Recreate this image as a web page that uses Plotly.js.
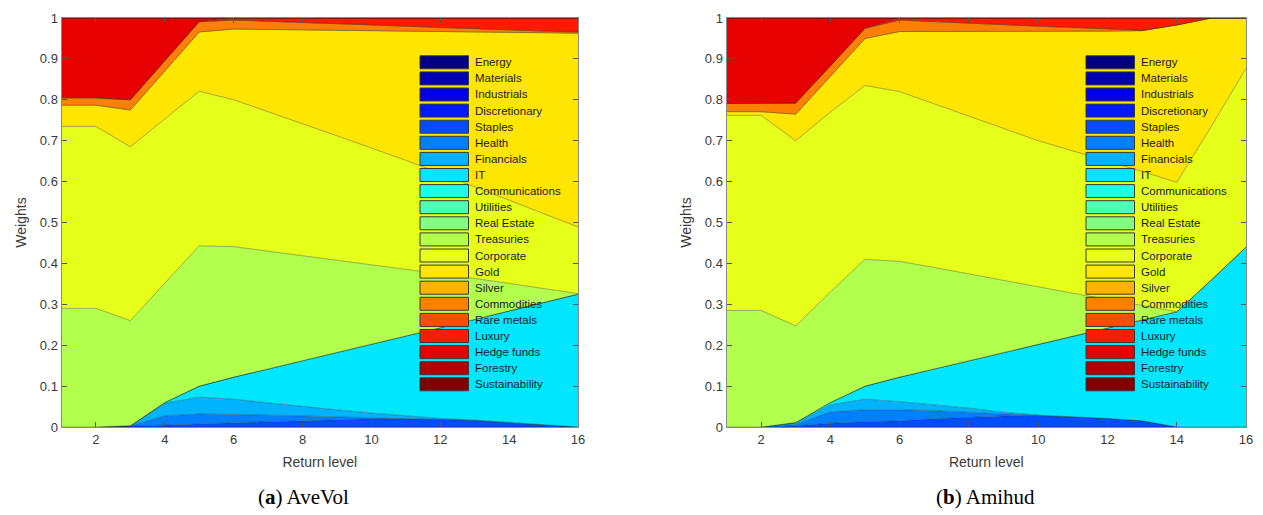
<!DOCTYPE html>
<html>
<head>
<meta charset="utf-8">
<script src="https://cdn.plot.ly/plotly-3.0.1.min.js"></script>
<style>html,body{margin:0;padding:0;background:#fff;}#chart{width:1263px;height:515px;}</style>
</head>
<body>
<div id="chart"></div>
<script>
// ---------------- data ----------------
const returnLevels = [1,2,3,4,5,6,7,8,9,10,11,12,13,14,15,16];
const assetNames = ["Energy","Materials","Industrials","Discretionary","Staples","Health","Financials","IT",
  "Communications","Utilities","Real Estate","Treasuries","Corporate","Gold","Silver","Commodities",
  "Rare metals","Luxury","Hedge funds","Forestry","Sustainability"];
const assetColors = ["#000080","#0000b3","#0000e6","#001aff","#004dff","#0080ff","#00b3ff","#00e6ff",
  "#1affe6","#4dffb3","#80ff80","#b3ff4d","#e6ff1a","#ffe600","#ffb300","#ff8000",
  "#ff4d00","#ff1a00","#e60000","#b30000","#800000"];
const xTickValues = [2,4,6,8,10,12,14,16];
const captions = ["(<b>a</b>) AveVol", "(<b>b</b>) Amihud"];

const zeroWeights = [0,0,0,0,0,0,0,0,0,0,0,0,0,0,0,0];

// (a) AveVol
const aveVolStaples     = [0,0,0.002,0.005,0.007,0.010,0.013,0.015,0.018,0.020,0.020,0.019,0.016,0.010,0.005,0];
const aveVolHealth      = [0,0,0.001,0.022,0.025,0.021,0.016,0.012,0.007,0.003,0.001,0,0,0,0,0];
const aveVolFinancials  = [0,0,0,0.031,0.041,0.037,0.030,0.023,0.017,0.011,0.006,0.002,0.001,0.001,0,0];
const aveVolIT          = [0,0,0,0.002,0.027,0.054,0.083,0.112,0.140,0.169,0.196,0.222,0.246,0.273,0.299,0.325];
const aveVolTreasuries  = [0.290,0.290,0.257,0.292,0.343,0.319,0.288,0.256,0.225,0.193,0.162,0.131,0.100,0.067,0.035,0.001];
const aveVolCorporate   = [0.445,0.445,0.425,0.401,0.378,0.359,0.341,0.323,0.305,0.286,0.267,0.246,0.224,0.204,0.183,0.163];
const aveVolGold        = [0.052,0.052,0.090,0.117,0.145,0.173,0.201,0.230,0.258,0.287,0.316,0.347,0.379,0.410,0.442,0.474];
const aveVolCommodities = [0.018,0.018,0.025,0.025,0.025,0.022,0.020,0.017,0.015,0.013,0.011,0.009,0.007,0.005,0.004,0.003];
const aveVolLuxury      = [0,0,0,0,0,0.005,0.008,0.012,0.015,0.018,0.021,0.024,0.027,0.030,0.032,0.034];
const aveVolHedgeFunds  = [0.195,0.195,0.200,0.105,0.009,0,0,0,0,0,0,0,0,0,0,0];

// (b) Amihud
const amihudStaples     = [0,0,0.003,0.009,0.013,0.015,0.020,0.024,0.027,0.028,0.025,0.021,0.015,0,0,0];
const amihudHealth      = [0,0,0.003,0.028,0.029,0.027,0.020,0.012,0.004,0,0,0,0,0,0,0];
const amihudFinancials  = [0,0,0.004,0.017,0.026,0.020,0.014,0.010,0.005,0.001,0,0,0,0,0,0];
const amihudIT          = [0,0,0.001,0.006,0.032,0.060,0.088,0.116,0.146,0.173,0.197,0.221,0.247,0.282,0.360,0.440];
const amihudTreasuries  = [0.285,0.285,0.236,0.270,0.310,0.283,0.248,0.212,0.176,0.140,0.105,0.070,0.035,0,0,0];
const amihudCorporate   = [0.477,0.477,0.453,0.440,0.425,0.415,0.400,0.386,0.372,0.358,0.348,0.338,0.328,0.316,0.375,0.437];
const amihudGold        = [0.009,0.009,0.065,0.088,0.115,0.147,0.177,0.207,0.238,0.268,0.293,0.318,0.344,0.385,0.265,0.123];
const amihudCommodities = [0.020,0.020,0.027,0.025,0.025,0.028,0.024,0.020,0.015,0.012,0.009,0.006,0.001,0,0,0];
const amihudLuxury      = [0,0,0,0,0,0.005,0.009,0.013,0.017,0.020,0.023,0.026,0.030,0.017,0,0];
const amihudHedgeFunds  = [0.209,0.209,0.208,0.117,0.025,0,0,0,0,0,0,0,0,0,0,0];

// ---------------- build ----------------
function seriesFor(p) {
  const m = {
    Staples: p.Staples, Health: p.Health, Financials: p.Financials, IT: p.IT,
    Treasuries: p.Treasuries, Corporate: p.Corporate, Gold: p.Gold,
    Commodities: p.Commodities, Luxury: p.Luxury, "Hedge funds": p.HedgeFunds
  };
  return assetNames.map(n => m[n] || zeroWeights);
}
const panels = [
  seriesFor({Staples: aveVolStaples, Health: aveVolHealth, Financials: aveVolFinancials, IT: aveVolIT,
    Treasuries: aveVolTreasuries, Corporate: aveVolCorporate, Gold: aveVolGold,
    Commodities: aveVolCommodities, Luxury: aveVolLuxury, HedgeFunds: aveVolHedgeFunds}),
  seriesFor({Staples: amihudStaples, Health: amihudHealth, Financials: amihudFinancials, IT: amihudIT,
    Treasuries: amihudTreasuries, Corporate: amihudCorporate, Gold: amihudGold,
    Commodities: amihudCommodities, Luxury: amihudLuxury, HedgeFunds: amihudHedgeFunds})
];

const W = 1263, H = 515;
const px = v => v / W, py = v => 1 - v / H;

const traces = [];
panels.forEach((series, k) => {
  series.forEach((vals, i) => {
    traces.push({
      type: 'scatter', mode: 'lines', x: returnLevels, y: vals,
      stackgroup: 'g' + k, name: assetNames[i],
      xaxis: k ? 'x2' : 'x', yaxis: k ? 'y2' : 'y',
      line: {width: 0.6, color: 'rgba(30,30,30,0.6)'},
      fillcolor: assetColors[i], showlegend: false, hoverinfo: 'skip'
    });
  });
});

const tickFont = {family: 'Liberation Sans, Arial, sans-serif', size: 13, color: '#3a3a3a'};
function xAx(d, anchor) {
  return {domain: d, range: [1, 16], tickvals: xTickValues, ticks: 'inside', ticklen: 5,
    tickcolor: '#555', showline: true, linecolor: '#8a8a8a', linewidth: 1, mirror: 'ticks',
    showgrid: false, zeroline: false, tickfont: tickFont, fixedrange: true, anchor: anchor,
    title: {text: 'Return level', font: {family: 'Liberation Sans, Arial, sans-serif', size: 14, color: '#3a3a3a'}, standoff: 11}};
}
function yAx(anchor) {
  return {domain: [py(427), py(18)], range: [0, 1], dtick: 0.1, ticks: 'inside', ticklen: 5,
    tickcolor: '#555', showline: true, linecolor: '#8a8a8a', linewidth: 1, mirror: 'ticks',
    showgrid: false, zeroline: false, tickfont: tickFont, anchor: anchor, fixedrange: true,
    title: {text: 'Weights', font: {family: 'Liberation Sans, Arial, sans-serif', size: 14, color: '#3a3a3a'}, standoff: 9}};
}

const shapes = [], annotations = [];
const legendSwatchX = [[420, 468.5], [1086, 1134.5]];
const legendTextX = [473, 1139];
[0, 1].forEach(k => {
  assetNames.forEach((n, i) => {
    const yc = 62.3 + i * 16.1;
    shapes.push({type: 'rect', xref: 'paper', yref: 'paper',
      x0: px(legendSwatchX[k][0]), x1: px(legendSwatchX[k][1]), y0: py(yc - 6.5), y1: py(yc + 6.5),
      fillcolor: assetColors[i], line: {color: '#3a3a3a', width: 1}});
    annotations.push({xref: 'paper', yref: 'paper', x: px(legendTextX[k]), y: py(yc), text: n,
      xanchor: 'left', yanchor: 'middle', showarrow: false,
      font: {family: 'Liberation Sans, Arial, sans-serif', size: 11.5, color: '#1a1a1a'}});
  });
});
annotations.push({xref: 'paper', yref: 'paper', x: px(303), y: py(497), text: captions[0], showarrow: false,
  xanchor: 'center', yanchor: 'middle', font: {family: 'Liberation Serif, serif', size: 21, color: '#000'}});
annotations.push({xref: 'paper', yref: 'paper', x: px(985), y: py(497), text: captions[1], showarrow: false,
  xanchor: 'center', yanchor: 'middle', font: {family: 'Liberation Serif, serif', size: 21, color: '#000'}});

const layout = {
  width: W, height: H, margin: {l: 0, r: 0, t: 0, b: 0},
  paper_bgcolor: '#fff', plot_bgcolor: '#fff', showlegend: false,
  xaxis: xAx([px(61.5), px(578)], 'y'), yaxis: yAx('x'),
  xaxis2: xAx([px(726.5), px(1246)], 'y2'), yaxis2: yAx('x2'),
  shapes: shapes, annotations: annotations
};

Plotly.newPlot('chart', traces, layout, {staticPlot: true, displayModeBar: false});
</script>
</body>
</html>
